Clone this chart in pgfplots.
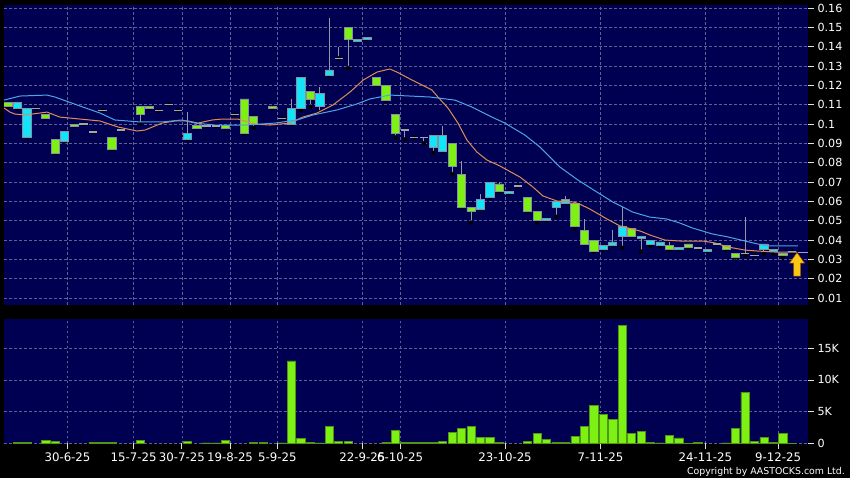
\documentclass[border=0pt]{standalone}
\usepackage{pgfplots}
\pgfplotsset{compat=1.18}
\usepackage{pgfplotstable}
\usepackage{fontspec}
\setmainfont{DejaVu Sans}
\definecolor{navy}{RGB}{0,0,82}
\definecolor{gridc}{RGB}{95,95,150}
\definecolor{cyanc}{RGB}{20,228,250}
\definecolor{limec}{RGB}{125,240,20}
\definecolor{bord}{RGB}{135,145,160}
\definecolor{wick}{RGB}{150,152,168}
\definecolor{flatc}{RGB}{160,165,180}
\definecolor{maor}{RGB}{225,140,85}
\definecolor{mabl}{RGB}{75,165,230}
\definecolor{volb}{RGB}{80,150,20}
\definecolor{arrowy}{RGB}{250,200,20}

\pgfdeclareplotmark{lastarrow}{%
  \pgfpathmoveto{\pgfpoint{0bp}{0bp}}%
  \pgfpathlineto{\pgfpoint{-7.5bp}{-10.5bp}}%
  \pgfpathlineto{\pgfpoint{-3.5bp}{-10.5bp}}%
  \pgfpathlineto{\pgfpoint{-3.5bp}{-23.5bp}}%
  \pgfpathlineto{\pgfpoint{3.5bp}{-23.5bp}}%
  \pgfpathlineto{\pgfpoint{3.5bp}{-10.5bp}}%
  \pgfpathlineto{\pgfpoint{7.5bp}{-10.5bp}}%
  \pgfpathclose
  \pgfusepathqfillstroke}

% candles: k open high low close
\pgfplotstableread{
k o h l c
0 0.111 0.111 0.109 0.109
1 0.108 0.111 0.108 0.111
2 0.093 0.108 0.093 0.108
3 0.108 0.108 0.108 0.108
4 0.105 0.105 0.103 0.103
5 0.092 0.092 0.085 0.085
6 0.091 0.096 0.091 0.096
7 0.100 0.100 0.099 0.099
8 0.100 0.100 0.100 0.100
9 0.096 0.096 0.096 0.096
10 0.107 0.107 0.107 0.107
11 0.093 0.093 0.087 0.087
12 0.097 0.097 0.097 0.097
14 0.109 0.109 0.100 0.105
15 0.109 0.109 0.108 0.108
16 0.107 0.107 0.107 0.107
17 0.110 0.110 0.110 0.110
18 0.107 0.107 0.107 0.107
19 0.092 0.106 0.092 0.095
20 0.0995 0.0995 0.098 0.098
21 0.099 0.099 0.099 0.099
22 0.099 0.099 0.099 0.099
23 0.0995 0.0995 0.098 0.098
24 0.105 0.105 0.105 0.105
25 0.113 0.113 0.095 0.095
26 0.104 0.104 0.098 0.100
28 0.109 0.109 0.108 0.108
29 0.103 0.103 0.103 0.103
30 0.100 0.113 0.100 0.108
31 0.108 0.124 0.107 0.124
32 0.117 0.117 0.109 0.113
33 0.109 0.119 0.106 0.116
34 0.125 0.155 0.125 0.128
35 0.134 0.140 0.134 0.134
36 0.150 0.150 0.129 0.144
37 0.143 0.144 0.143 0.144
38 0.144 0.145 0.144 0.145
39 0.124 0.124 0.120 0.120
40 0.120 0.120 0.112 0.112
41 0.105 0.105 0.093 0.095
42 0.097 0.097 0.092 0.097
43 0.093 0.094 0.093 0.093
44 0.093 0.093 0.090 0.093
45 0.088 0.094 0.085 0.094
46 0.086 0.099 0.086 0.094
47 0.090 0.090 0.074 0.078
48 0.074 0.081 0.057 0.057
49 0.057 0.057 0.049 0.055
50 0.056 0.064 0.056 0.061
51 0.062 0.070 0.062 0.070
52 0.069 0.070 0.065 0.065
53 0.064 0.065 0.064 0.065
54 0.068 0.068 0.068 0.068
55 0.062 0.062 0.055 0.055
56 0.055 0.055 0.049 0.050
57 0.050 0.051 0.050 0.051
58 0.057 0.060 0.052 0.060
59 0.059 0.063 0.059 0.061
60 0.059 0.059 0.046 0.047
61 0.045 0.051 0.038 0.038
62 0.040 0.040 0.034 0.034
63 0.035 0.037 0.035 0.037
64 0.037 0.045 0.037 0.039
65 0.042 0.057 0.036 0.047
66 0.046 0.046 0.042 0.042
67 0.041 0.042 0.034 0.042
68 0.038 0.040 0.037 0.040
69 0.037 0.039 0.037 0.039
70 0.037 0.039 0.035 0.035
71 0.035 0.036 0.035 0.036
72 0.038 0.038 0.036 0.036
73 0.036 0.036 0.036 0.036
74 0.034 0.035 0.034 0.035
75 0.038 0.038 0.038 0.038
76 0.037 0.037 0.035 0.035
77 0.033 0.033 0.031 0.031
78 0.033 0.052 0.032 0.033
79 0.032 0.032 0.032 0.032
80 0.035 0.038 0.033 0.038
81 0.034 0.035 0.033 0.035
82 0.033 0.033 0.031 0.032
83 0.034 0.034 0.034 0.034
}\candles

% flat (open = close) candles drawn as dashes
\pgfplotstableread{
k v
3 0.108
8 0.100
9 0.096
10 0.107
12 0.097
16 0.107
17 0.110
18 0.107
21 0.099
22 0.099
24 0.105
29 0.103
35 0.134
42 0.097
43 0.093
44 0.093
54 0.068
73 0.036
75 0.038
78 0.033
79 0.032
83 0.034
}\flats

% short moving average (orange)
\pgfplotstableread{
k v
-0.42 0.1083
0.21 0.1062
0.74 0.1052
1.8 0.1047
4.13 0.1062
5.5 0.1036
7.62 0.1026
9.74 0.1016
11.64 0.0985
13.65 0.0964
14.5 0.0969
16.3 0.1005
17.67 0.1016
19.05 0.1016
20.1 0.1005
21.6 0.1021
22.65 0.1026
24.3 0.1026
25.1 0.1016
26.1 0.1000
27.7 0.0995
29.8 0.1005
31.2 0.1036
32.7 0.1057
34.4 0.1099
36.2 0.1166
37.6 0.1228
39.05 0.1269
40.4 0.1285
41.16 0.1269
42.75 0.1228
44.87 0.1176
45.5 0.1140
46.56 0.1083
47.62 0.1005
48.57 0.0917
49.63 0.0855
50.69 0.0814
52.06 0.0783
54.18 0.0726
55.56 0.0674
56.61 0.0628
58.1 0.0602
59.79 0.0597
60.5 0.0586
61.59 0.0560
63.39 0.0509
64.76 0.0473
66.88 0.0447
67.94 0.0426
69.52 0.0400
71.11 0.0395
73.54 0.0395
74.81 0.0385
76.19 0.0364
78.0 0.0348
79.37 0.0343
81.16 0.0338
83.49 0.0338
}\maA

% long moving average (light blue)
\pgfplotstableread{
k v
-0.42 0.1124
1.27 0.1145
4.13 0.1150
4.97 0.1140
7.30 0.1099
9.74 0.1057
11.32 0.1021
13.97 0.1011
16.3 0.1011
18.41 0.1021
19.79 0.1005
21.9 0.0995
25.08 0.0995
28.25 0.1005
30.58 0.1021
32.28 0.1047
34.81 0.1073
36.93 0.1104
38.31 0.1130
40.42 0.1150
42.54 0.1145
44.66 0.1140
47.3 0.1124
49.1 0.1088
51.22 0.1036
52.59 0.1005
54.7 0.0943
56.3 0.0881
58.4 0.0778
60.3 0.0711
62.3 0.0649
64.0 0.0597
66.1 0.0545
67.9 0.0519
69.7 0.0509
71.1 0.0488
72.4 0.0463
74.5 0.0432
76.2 0.0416
78.0 0.0395
79.3 0.0380
80.4 0.0370
83.6 0.0370
}\maB

% volume
\pgfplotstableread{
k v
1 200
2 200
4 500
5 250
9 200
10 200
11 100
14 500
19 250
21 50
22 50
23 450
26 200
27 80
29 50
30 13000
31 800
32 100
33 50
34 2700
35 350
36 350
40 200
41 2050
42 150
43 150
44 100
45 100
46 350
47 1750
48 2350
49 2600
50 900
51 950
52 100
55 350
56 1600
57 650
58 150
59 150
60 1150
61 2600
62 6000
63 4600
64 3700
65 18600
66 1550
67 1850
68 100
69 50
70 1300
71 850
72 30
73 100
76 50
77 2350
78 8050
79 300
80 950
81 100
82 1600
83 30
}\vol

\pgfplotsset{
  chartx/.style={scale only axis, width=804bp, xmin=-0.42, xmax=84.66,
    anchor=south west},
  pricey/.style={at={(4bp,173bp)}, height=300bp, ymin=0.0064, ymax=0.1616},
  mygrid/.style={grid style={draw=gridc, dash pattern=on 2.5bp off 2.5bp, line width=0.6bp}},
}

\begin{document}
\begin{tikzpicture}
\fill[black] (0,0) rectangle (850bp,478bp);
\path[use as bounding box] (0,0) rectangle (850bp,478bp);

% ---- price panel: background, grid, ticks, wicks
\begin{axis}[chartx, pricey,
  axis background/.style={fill=navy},
  axis line style={draw=none},
  mygrid, xmajorgrids, ymajorgrids,
  xtick={6.3,13.3,18.4,23.5,28.5,37.5,41.5,52.6,62.7,73.8,81.5},
  xticklabels={}, xtick style={draw=none},
  ytick={0.01,0.02,0.03,0.04,0.05,0.06,0.07,0.08,0.09,0.10,0.11,0.12,0.13,0.14,0.15,0.16},
  yticklabels={0.01,0.02,0.03,0.04,0.05,0.06,0.07,0.08,0.09,0.1,0.11,0.12,0.13,0.14,0.15,0.16},
  ytick pos=right, yticklabel pos=right,
  tick align=outside, major tick length=6bp,
  ytick style={draw=white!75!gray, line width=0.7bp},
  tick label style={font=\fontsize{11.2}{13}\selectfont, text=white},
  /pgf/number format/assume math mode=true,
]
\addplot[only marks, mark=none,
  error bars/.cd, y dir=plus, y explicit, error mark=none,
  error bar style={draw=wick, line width=1bp, solid}]
  table[x=k, y=l, y error plus expr={\thisrow{h}-\thisrow{l}}] {\candles};
\end{axis}

% ---- price panel: candle bodies
\begin{axis}[chartx, pricey, hide axis, ybar stacked, bar width=8.2bp]
\addplot[draw=none, fill=none] table[x=k, y expr={min(\thisrow{o},\thisrow{c})}] {\candles};
\addplot[fill=limec, draw=bord, line width=0.8bp] table[x=k, y expr={max(\thisrow{o}-\thisrow{c},0)}] {\candles};
\addplot[fill=cyanc, draw=bord, line width=0.8bp] table[x=k, y expr={max(\thisrow{c}-\thisrow{o},0)}] {\candles};
\end{axis}

% ---- price panel: flat dashes, moving averages, last price marker
\begin{axis}[chartx, pricey, hide axis]
\addplot[only marks, mark=-, mark size=4.1bp, mark options={draw=flatc, line width=1.5bp}]
  table[x=k, y=v] {\flats};
\addplot[maor, line width=1bp, mark=none] table[x=k, y=v] {\maA};
\addplot[mabl, line width=1bp, mark=none] table[x=k, y=v] {\maB};
\addplot[draw=flatc, line width=0.8bp, mark=none] coordinates {(83.6,0.0338) (84.66,0.0338)};
\addplot[only marks, mark=lastarrow,
  mark options={fill=arrowy, draw=orange!60!black, line width=0.5bp}]
  coordinates {(83.5,0.0335)};
\end{axis}

% ---- volume panel
\begin{axis}[chartx, at={(4bp,34.7bp)}, height=124.3bp, ymin=0, ymax=19600,
  axis background/.style={fill=navy},
  axis line style={draw=none},
  mygrid, xmajorgrids, ymajorgrids,
  ybar, bar width=8.2bp,
  xtick={6.3,13.3,18.4,23.5,28.5,37.5,41.5,52.6,62.7,73.8,81.5},
  xticklabels={30-6-25,15-7-25,30-7-25,19-8-25,5-9-25,22-9-25,6-10-25,23-10-25,7-11-25,24-11-25,9-12-25},
  ytick={0,5000,10000,15000}, yticklabels={0,5K,10K,15K},
  scaled y ticks=false,
  ytick pos=right, yticklabel pos=right, xtick pos=bottom,
  tick align=outside, major tick length=6bp,
  tick style={draw=white!75!gray, line width=0.7bp},
  yticklabel style={font=\fontsize{11.2}{13}\selectfont, text=white},
  xticklabel style={font=\fontsize{11.8}{13}\selectfont, text=white},
  /pgf/number format/assume math mode=true,
]
\addplot[fill=limec, draw=volb, line width=0.7bp] table[x=k, y=v] {\vol};
\end{axis}

\node[anchor=base east, text=white, font=\fontsize{9.4}{11}\selectfont, inner sep=0pt]
  at (845bp,4bp) {Copyright by AASTOCKS.com Ltd.};
\end{tikzpicture}
\end{document}
